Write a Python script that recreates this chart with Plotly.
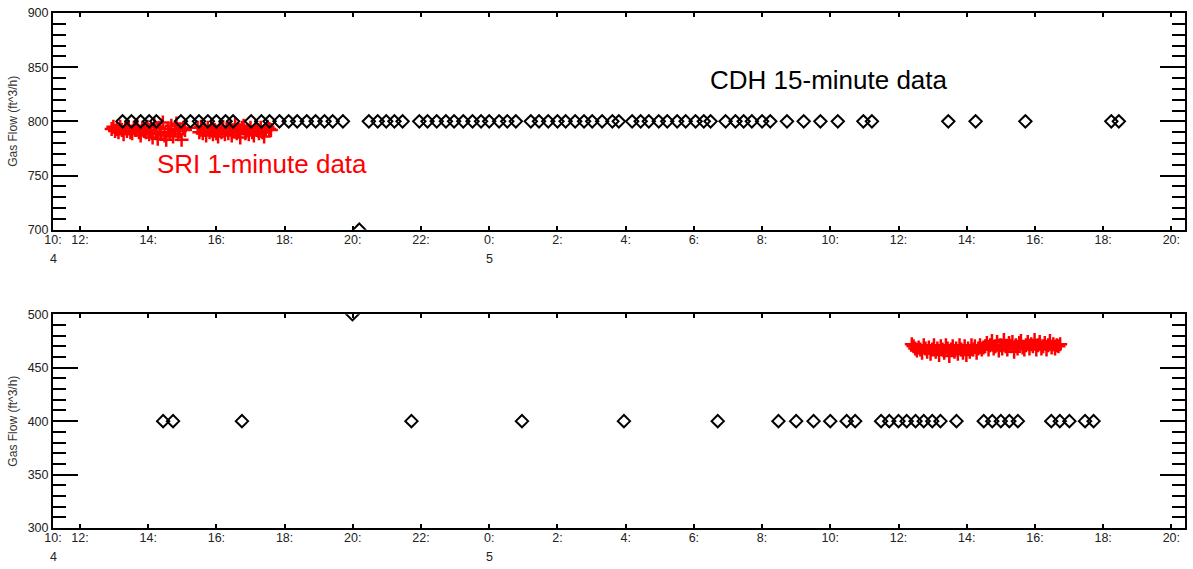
import numpy as np
import plotly.graph_objects as go

# ---------------- data ----------------
# hours counted from 00:00 of day 4
cdh_top_hours = [13.25, 13.51, 13.78, 14.03, 14.24,
                 14.96, 15.24, 15.49, 15.75, 16.0, 16.27, 16.49,
                 17.02, 17.32, 17.56, 17.85, 18.12, 18.37, 18.65, 18.91, 19.17, 19.41, 19.71,
                 20.19,
                 20.47, 20.73, 20.98, 21.22, 21.46,
                 21.95, 22.19, 22.46, 22.73, 22.97, 23.24, 23.51, 23.76, 24.0, 24.29, 24.53, 24.78,
                 25.22, 25.46, 25.73, 26.0, 26.24, 26.52, 26.78, 27.02, 27.31, 27.61, 27.8,
                 28.19, 28.44, 28.68, 28.97, 29.22, 29.51, 29.76, 30.05, 30.29, 30.49,
                 30.93, 31.22, 31.46, 31.7, 32.0, 32.24,
                 32.73, 33.22, 33.71, 34.22, 34.97, 35.22, 37.46, 38.26, 39.72, 42.24, 42.46]
cdh_top_values = [800] * 23 + [700] + [800] * 55

cdh_bot_hours = [14.44, 14.73, 16.75, 19.99, 21.72, 24.96, 27.95, 30.70,
                 32.48, 33.0, 33.51, 34.0, 34.48, 34.73,
                 35.49, 35.73, 36.0, 36.24, 36.5, 36.74, 36.99, 37.23, 37.7,
                 38.5, 38.75, 39.0, 39.25, 39.5,
                 40.48, 40.73, 41.01, 41.47, 41.72]
cdh_bot_values = [400, 400, 400, 500] + [400] * 29

sri_top_a_start = 12.93
sri_top_a_values = [793, 795, 791, 793, 790, 795, 792, 788, 794, 791, 795, 790, 789, 794, 792,
                    796, 790, 787, 794, 791, 790, 795, 788, 792, 785, 797, 789, 784, 794, 790,
                    799, 787, 783, 793, 789, 796, 786, 792, 798, 788, 791, 783, 794, 792]
sri_top_b_start = 15.45
sri_top_b_values = [794, 790, 795, 789, 792, 787, 794, 790, 796, 788, 792, 789, 786, 794, 790,
                    795, 788, 793, 789, 794, 787, 791, 797, 789, 792, 785, 794, 796, 789, 792,
                    788, 794, 790, 787, 795, 792, 789, 794, 790, 786, 792, 795, 793, 792]
sri_bot_start = 36.39
sri_bot_values = [472, 470, 468, 466, 469, 467, 464, 471, 468, 465, 469, 463, 467, 471, 465,
                  468, 462, 470, 467, 464, 471, 468, 461, 467, 470, 465, 468, 463, 471, 467,
                  464, 470, 462, 468, 465, 471, 467, 470, 464, 468, 471, 467, 469,
                  470, 473, 467, 471, 475, 468, 470, 474, 466, 471, 468, 476, 470, 467, 473,
                  470, 474, 465, 471, 468, 473, 475, 469, 467, 471, 474, 468, 472, 470, 476,
                  467, 471, 474, 468, 470, 473, 467, 471, 475, 469, 472, 468, 471, 470, 472]
sri_step_h = 3 / 60.0

x_tickvals = [11.21, 12, 14, 16, 18, 20, 22, 24, 26, 28, 30, 32, 34, 36, 38, 40, 42, 44]
x_ticktext = ["10:", "12:", "14:", "16:", "18:", "20:", "22:", "0:", "2:", "4:", "6:",
              "8:", "10:", "12:", "14:", "16:", "18:", "20:"]
date_hours = [11.21, 24]
date_labels = ["4", "5"]

# ---------------- figure ----------------
def times(start, vals):
    return [start + i * sri_step_h for i in range(len(vals))]

fig = go.Figure()
diamond = dict(symbol="diamond-open", size=9.5, color="black", line=dict(width=2, color="black"))
plus = dict(symbol="cross-thin-open", size=10, color="red", line=dict(width=2.5, color="red"))

fig.add_trace(go.Scatter(x=times(sri_top_a_start, sri_top_a_values) + [None] + times(sri_top_b_start, sri_top_b_values),
                         y=sri_top_a_values + [None] + sri_top_b_values,
                         mode="markers", marker=plus, xaxis="x", yaxis="y"))
fig.add_trace(go.Scatter(x=cdh_top_hours, y=cdh_top_values, mode="markers", marker=diamond,
                         xaxis="x", yaxis="y"))
fig.add_trace(go.Scatter(x=times(sri_bot_start, sri_bot_values), y=sri_bot_values,
                         mode="markers", marker=plus, xaxis="x2", yaxis="y2"))
fig.add_trace(go.Scatter(x=cdh_bot_hours, y=cdh_bot_values, mode="markers", marker=diamond,
                         xaxis="x2", yaxis="y2"))

FONT = "Liberation Sans, Arial, sans-serif"
tickfont = dict(family=FONT, size=12.5, color="#222")
xax = dict(range=[11.21, 44.4], tickmode="array", tickvals=x_tickvals, ticktext=x_ticktext,
           ticks="inside", ticklen=4, tickwidth=2, tickcolor="black", showline=True, linewidth=2,
           linecolor="black", mirror="ticks", showgrid=False, zeroline=False, tickfont=tickfont,
           ticklabelstandoff=-3)
yax = dict(ticks="inside", ticklen=25, tickwidth=2, tickcolor="black", showline=True, linewidth=2,
           linecolor="black", mirror="ticks", showgrid=False, zeroline=False, tickfont=tickfont,
           tickmode="linear", dtick=50, tick0=0,
           minor=dict(ticks="inside", ticklen=13, tickwidth=2, tickcolor="black", dtick=10,
                      tick0=0, showgrid=False),
           title=dict(text="Gas Flow (ft^3/h)", standoff=7,
                      font=dict(family=FONT, size=12, color="#333")))

fig.update_layout(
    width=1193, height=569, margin=dict(l=53, r=6, t=10, b=41),
    plot_bgcolor="white", paper_bgcolor="white", showlegend=False,
    xaxis=dict(xax, domain=[0, 1], anchor="y"),
    yaxis=dict(yax, domain=[0.5792, 1], range=[700, 900], anchor="x"),
    xaxis2=dict(xax, domain=[0, 1], anchor="y2"),
    yaxis2=dict(yax, domain=[0, 0.415], range=[300, 500], anchor="x2"),
)

annots = []
for yref in ["y domain", "y2 domain"]:
    xref = "x" if yref == "y domain" else "x2"
    for h, lab in zip(date_hours, date_labels):
        annots.append(dict(x=h, y=0, xref=xref, yref=yref, text=lab, showarrow=False,
                           yanchor="middle", yshift=-29, font=tickfont))
annots.append(dict(x=33.97, y=838, xref="x", yref="y", text="CDH 15-minute data", showarrow=False,
                   font=dict(family=FONT, size=26, color="black")))
annots.append(dict(x=17.33, y=761, xref="x", yref="y", text="SRI 1-minute data", showarrow=False,
                   font=dict(family=FONT, size=26, color="red")))
fig.update_layout(annotations=annots)

fig.write_html("out.html")
